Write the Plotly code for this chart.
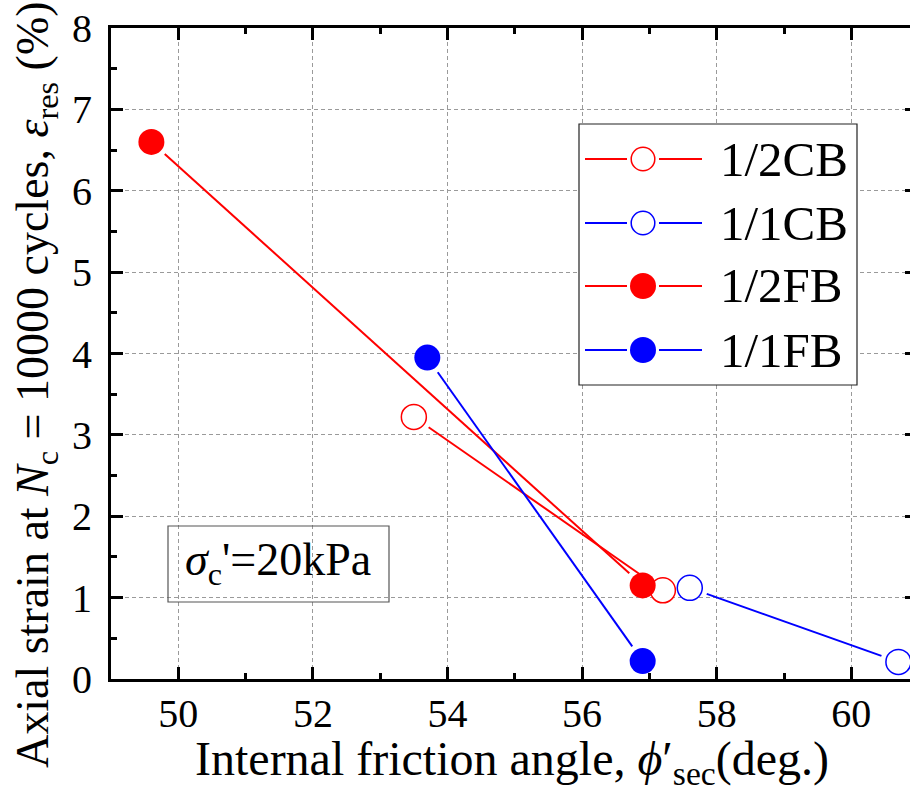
import math
import plotly.graph_objects as go

# Internal friction angle (deg.) and residual axial strain (%) per specimen type
phi_half_cb = [53.5, 57.2]
eps_half_cb = [3.22, 1.09]
phi_one_cb = [57.6, 60.7]
eps_one_cb = [1.12, 0.21]
phi_half_fb = [49.6, 56.9]
eps_half_fb = [6.60, 1.15]
phi_one_fb = [53.7, 56.9]
eps_one_fb = [3.95, 0.22]

series_names = ["1/2CB", "1/1CB", "1/2FB", "1/1FB"]
series_colors = ["#ff0000", "#0000ff", "#ff0000", "#0000ff"]
series_filled = [False, False, True, True]
series_x = [phi_half_cb, phi_one_cb, phi_half_fb, phi_one_fb]
series_y = [eps_half_cb, eps_one_cb, eps_half_fb, eps_one_fb]

x_tick_labels = ["50", "52", "54", "56", "58", "60"]
y_tick_labels = ["0", "1", "2", "3", "4", "5", "6", "7", "8"]

# Figure geometry
W, H = 910, 790
ML, MR, MT, MB = 111, 0, 28, 111
PW, PH = W - ML - MR, H - MT - MB
X_RANGE = [49.0, 49.0 + PW / 67.3]
Y_RANGE = [0.0, 8.0]
KX = PW / (X_RANGE[1] - X_RANGE[0])
KY = PH / (Y_RANGE[1] - Y_RANGE[0])

FONT = "Liberation Serif"
MARKER = 26
GAP = 18  # px between symbol centre and connecting line


def gapped(xs, ys, gap=GAP):
    """Connecting segments that stop short of each symbol."""
    gx, gy = [], []
    for i in range(len(xs) - 1):
        dx = (xs[i + 1] - xs[i]) * KX
        dy = (ys[i + 1] - ys[i]) * KY
        L = math.hypot(dx, dy)
        ux, uy = dx / L, dy / L
        gx += [xs[i] + ux * gap / KX, xs[i + 1] - ux * gap / KX, None]
        gy += [ys[i] + uy * gap / KY, ys[i + 1] - uy * gap / KY, None]
    return gx, gy


def px_x(p):
    return (p - ML) / PW


def px_y(p):
    return (H - MB - p) / PH


fig = go.Figure()

for name, col, xs, ys in zip(series_names, series_colors, series_x, series_y):
    gx, gy = gapped(xs, ys)
    fig.add_trace(go.Scatter(x=gx, y=gy, mode="lines", line=dict(color=col, width=2),
                             name=name, showlegend=False, hoverinfo="skip"))

for name, col, filled, xs, ys in zip(series_names, series_colors, series_filled, series_x, series_y):
    if filled:
        mk = dict(symbol="circle", size=MARKER, color=col, line=dict(width=0))
    else:
        mk = dict(symbol="circle", size=MARKER - 1, color="white", line=dict(color=col, width=1.5))
    fig.add_trace(go.Scatter(x=xs, y=ys, mode="markers", marker=mk, name=name, showlegend=False))

# carrier for the right-hand tick axis
fig.add_trace(go.Scatter(x=[X_RANGE[0]], y=[Y_RANGE[0]], xaxis="x", yaxis="y2", mode="markers",
                         marker=dict(opacity=0), showlegend=False, hoverinfo="skip"))

axis_common = dict(ticks="inside", tickwidth=3, tickcolor="black", zeroline=False,
                   tickfont=dict(family=FONT, size=40, color="black"))

fig.update_layout(
    width=W, height=H,
    margin=dict(l=ML, r=MR, t=MT, b=MB, pad=0),
    plot_bgcolor="white", paper_bgcolor="white",
    showlegend=False,
    font=dict(family=FONT, color="black"),
    xaxis=dict(range=X_RANGE, tickmode="array", tickvals=[float(t) for t in x_tick_labels],
               ticktext=x_tick_labels, ticklen=12, showline=True, linewidth=3, linecolor="black",
               mirror="ticks", showgrid=True, gridcolor="#9a9a9a", gridwidth=1, griddash="4px,3px",
               ticklabelstandoff=-3,
               minor=dict(dtick=1, tick0=49, ticks="inside", ticklen=6, tickwidth=3,
                          tickcolor="black", showgrid=False),
               **axis_common),
    yaxis=dict(range=Y_RANGE, tickmode="array", tickvals=[float(t) for t in y_tick_labels],
               ticktext=y_tick_labels, ticklen=12, showline=True, linewidth=3, linecolor="black",
               mirror=False, showgrid=True, gridcolor="#9a9a9a", gridwidth=1, griddash="4px,3px",
               ticklabelstandoff=8,
               minor=dict(dtick=0.5, tick0=0, ticks="inside", ticklen=6, tickwidth=3,
                          tickcolor="black", showgrid=False),
               **axis_common),
    yaxis2=dict(range=Y_RANGE, overlaying="y", side="right", anchor="x", tickmode="array",
                tickvals=[float(t) for t in y_tick_labels], ticks="inside", ticklen=5, tickwidth=3,
                tickcolor="black", showticklabels=False, showgrid=False, showline=False, zeroline=False),
)

shapes = []
annotations = []

# legend frame and entries
LEG_X0, LEG_X1, LEG_Y0, LEG_Y1 = 579, 857, 124, 385
shapes.append(dict(type="rect", xref="paper", yref="paper", layer="above",
                   x0=px_x(LEG_X0), x1=px_x(LEG_X1), y0=px_y(LEG_Y1), y1=px_y(LEG_Y0),
                   line=dict(color="#222222", width=1.2), fillcolor="white"))
row_y = [159, 223, 286, 350]
for ry, name, col, filled in zip(row_y, series_names, series_colors, series_filled):
    for a, b in [(585, 627), (659, 702)]:
        shapes.append(dict(type="line", xref="paper", yref="paper", layer="above",
                           x0=px_x(a), x1=px_x(b), y0=px_y(ry), y1=px_y(ry),
                           line=dict(color=col, width=2)))
    cx = 643
    if filled:
        r = 13
        shapes.append(dict(type="circle", xref="paper", yref="paper", layer="above",
                           x0=px_x(cx - r), x1=px_x(cx + r), y0=px_y(ry + r), y1=px_y(ry - r),
                           fillcolor=col, line=dict(width=0)))
    else:
        r = 11.8
        shapes.append(dict(type="circle", xref="paper", yref="paper", layer="above",
                           x0=px_x(cx - r), x1=px_x(cx + r), y0=px_y(ry + r), y1=px_y(ry - r),
                           fillcolor="white", line=dict(color=col, width=1.5)))
    annotations.append(dict(text=name, xref="paper", yref="paper", x=px_x(718), y=px_y(ry),
                            xanchor="left", yanchor="middle", showarrow=False,
                            font=dict(family=FONT, size=49, color="black")))

# confining stress label
shapes.append(dict(type="rect", xref="paper", yref="paper", layer="above",
                   x0=px_x(168), x1=px_x(389), y0=px_y(602), y1=px_y(526),
                   line=dict(color="#555555", width=1.2), fillcolor="rgba(0,0,0,0)"))
annotations.append(dict(text="<i>σ</i><sub>c</sub>'=20kPa", xref="paper", yref="paper",
                        x=px_x(278), y=px_y(563), xanchor="center", yanchor="middle",
                        showarrow=False, font=dict(family=FONT, size=46, color="black")))

# axis titles
annotations.append(dict(text="Internal friction angle, <i>ϕ</i>′<sub>sec</sub>(deg.)",
                        xref="paper", yref="paper", x=px_x(512), y=px_y(762),
                        xanchor="center", yanchor="middle", showarrow=False,
                        font=dict(family=FONT, size=48, color="black")))
annotations.append(dict(text="Axial strain at <i>N</i><sub>c</sub> = 10000 cycles, <i>ε</i><sub>res</sub> (%)",
                        xref="paper", yref="paper", x=px_x(36), y=px_y(385), textangle=-90,
                        xanchor="center", yanchor="middle", showarrow=False,
                        font=dict(family=FONT, size=46, color="black")))

fig.update_layout(shapes=shapes, annotations=annotations)
fig.write_html("out.html")
